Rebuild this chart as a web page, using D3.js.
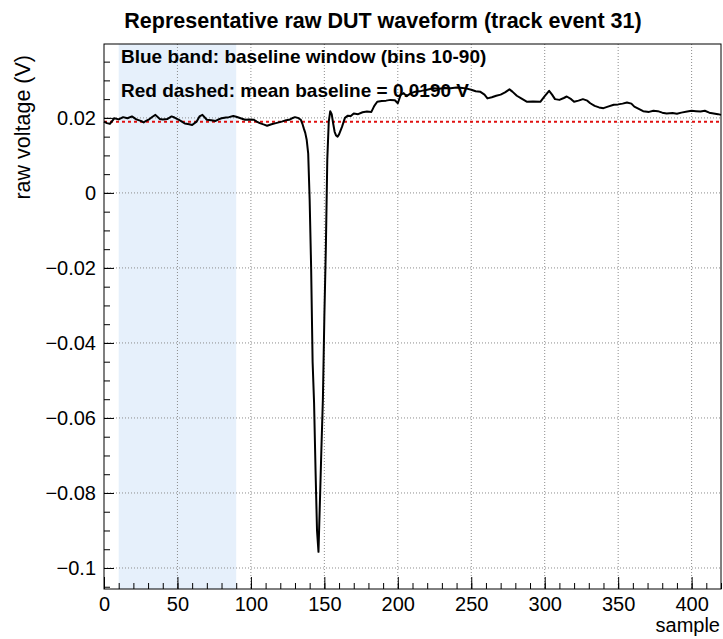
<!DOCTYPE html>
<html>
<head>
<meta charset="utf-8">
<script src="https://cdn.jsdelivr.net/npm/d3@7"></script>
<style>
body { margin:0; background:#fff; }
text { font-family: "Liberation Sans", Arial, Helvetica, sans-serif; }
</style>
</head>
<body>
<script>
// waveform (sample index, raw voltage in V)
var samples = [0, 2, 4, 7, 10, 13, 16, 19, 22, 25, 27, 29, 31, 33, 35, 38, 40, 43, 46, 48, 51, 53, 55, 58, 60, 63, 65, 67, 70, 73, 76, 78, 80, 83, 85, 88, 90, 93, 96, 99, 102, 104, 106, 109, 111, 114, 117, 119, 121, 124, 126, 128, 130, 132, 134,
  135, 136, 137, 138, 139, 140, 141, 142, 143, 144, 145, 146, 147, 148, 149, 150, 151, 152, 153, 154, 155, 156, 157, 158, 159, 160, 162, 164, 166, 168, 170, 173, 176, 179, 182, 184, 186, 189, 192, 195, 198, 200,
  202, 204, 206, 209, 212, 216, 220, 224, 228, 232, 236, 240, 244, 247, 250, 253, 256, 259, 261, 264, 267, 270, 273, 276, 278, 281, 284, 288, 292, 297, 300, 303, 305, 307, 310, 313, 315, 318, 320, 323, 326, 329, 331, 334, 337, 340, 343, 347, 350, 353, 356, 359, 361, 364, 367, 371, 374, 377, 380, 383, 387, 390, 393, 397, 400, 403, 406, 409, 412, 415, 418, 420];
var voltage = [0.0190, 0.0186, 0.0184, 0.0199, 0.0196, 0.0202, 0.0199, 0.0204, 0.0196, 0.0192, 0.0188, 0.0193, 0.0197, 0.0203, 0.0208, 0.0197, 0.0196, 0.0197, 0.0204, 0.0201, 0.0195, 0.0190, 0.0185, 0.0183, 0.0181, 0.0190, 0.0204, 0.0208, 0.0195, 0.0194, 0.0192, 0.0196, 0.0199, 0.0201, 0.0202, 0.0205, 0.0203, 0.0199, 0.0195, 0.0196, 0.0195, 0.0190, 0.0186, 0.0182, 0.0179, 0.0183, 0.0186, 0.0188, 0.0190, 0.0194, 0.0195, 0.0199, 0.0202, 0.0200, 0.0195,
  0.0185, 0.0172, 0.0160, 0.0141, 0.0105, -0.0020, -0.0200, -0.0450, -0.0560, -0.0740, -0.0900, -0.0957, -0.0820, -0.0680, -0.0550, -0.0330, -0.0150, 0.0090, 0.0190, 0.0218, 0.0210, 0.0185, 0.0163, 0.0153, 0.0150, 0.0156, 0.0176, 0.0200, 0.0206, 0.0205, 0.0212, 0.0210, 0.0215, 0.0217, 0.0216, 0.0232, 0.0243, 0.0245, 0.0246, 0.0248, 0.0247, 0.0239,
  0.0262, 0.0266, 0.0258, 0.0266, 0.0270, 0.0272, 0.0275, 0.0279, 0.0278, 0.0280, 0.0279, 0.0281, 0.0280, 0.0278, 0.0275, 0.0271, 0.0270, 0.0262, 0.0252, 0.0255, 0.0259, 0.0262, 0.0268, 0.0276, 0.0270, 0.0259, 0.0252, 0.0243, 0.0244, 0.0243, 0.0258, 0.0272, 0.0262, 0.0250, 0.0248, 0.0253, 0.0257, 0.0250, 0.0243, 0.0246, 0.0250, 0.0246, 0.0239, 0.0232, 0.0228, 0.0226, 0.0230, 0.0235, 0.0236, 0.0238, 0.0241, 0.0238, 0.0230, 0.0224, 0.0218, 0.0216, 0.0219, 0.0218, 0.0214, 0.0212, 0.0213, 0.0211, 0.0214, 0.0217, 0.0219, 0.0218, 0.0217, 0.0219, 0.0214, 0.0212, 0.0210, 0.0208];

var baselineMean = 0.0190;
var baselineWindow = [10, 90];
var xTicks = [0, 50, 100, 150, 200, 250, 300, 350, 400];
var yTicks = [-0.1, -0.08, -0.06, -0.04, -0.02, 0, 0.02];

var width = 723, height = 639;
var frame = {left:104, right:721, top:44, bottom:589};

var svg = d3.select("body").append("svg")
  .attr("width", width)
  .attr("height", height);

var x = d3.scaleLinear().domain([0, 420]).range([frame.left, frame.right]);
var y = d3.scaleLinear().domain([-0.1056, 0.0397]).range([frame.bottom, frame.top]);

// baseline window band
svg.append("rect")
  .attr("x", x(baselineWindow[0]))
  .attr("y", frame.top)
  .attr("width", x(baselineWindow[1]) - x(baselineWindow[0]))
  .attr("height", frame.bottom - frame.top)
  .attr("fill", "#e6f0fb");

// grid
svg.append("g").selectAll("line").data(xTicks.filter(function(d){return d>0;}))
  .enter().append("line")
  .attr("x1", function(d){return x(d);}).attr("x2", function(d){return x(d);})
  .attr("y1", frame.top).attr("y2", frame.bottom)
  .attr("stroke", "#8c8c8c").attr("stroke-width", 1).attr("stroke-dasharray", "1,2");
svg.append("g").selectAll("line").data(yTicks)
  .enter().append("line")
  .attr("x1", frame.left).attr("x2", frame.right)
  .attr("y1", function(d){return y(d);}).attr("y2", function(d){return y(d);})
  .attr("stroke", "#8c8c8c").attr("stroke-width", 1).attr("stroke-dasharray", "1,2");

// axes, ROOT style ticks pointing inwards
var xMinor = d3.range(0, 421, 10);
var yMinor = d3.range(-0.105, 0.0396, 0.005);

var xAxis = svg.append("g").attr("transform", "translate(0," + frame.bottom + ")");
xAxis.call(d3.axisBottom(x).tickValues(xMinor).tickSize(-6).tickFormat(""));
xAxis.select(".domain").remove();
var xAxisMaj = svg.append("g").attr("transform", "translate(0," + frame.bottom + ")");
xAxisMaj.call(d3.axisBottom(x).tickValues(xTicks).tickSize(-12).tickPadding(8).tickFormat(d3.format("d")));
xAxisMaj.select(".domain").remove();
xAxisMaj.selectAll("text").attr("font-size", 20).attr("font-family", "Liberation Sans, Arial, sans-serif").attr("fill", "#000");

var yAxis = svg.append("g").attr("transform", "translate(" + frame.left + ",0)");
yAxis.call(d3.axisLeft(y).tickValues(yMinor).tickSize(-6).tickFormat(""));
yAxis.select(".domain").remove();
var yAxisMaj = svg.append("g").attr("transform", "translate(" + frame.left + ",0)");
yAxisMaj.call(d3.axisLeft(y).tickValues(yTicks).tickSize(-10).tickPadding(8)
  .tickFormat(function(d){ return d === 0 ? "0" : d3.format("")(+d.toFixed(2)).replace("-", "\u2212"); }));
yAxisMaj.select(".domain").remove();
yAxisMaj.selectAll("text").attr("font-size", 20).attr("font-family", "Liberation Sans, Arial, sans-serif").attr("fill", "#000");

// mean baseline
svg.append("line")
  .attr("x1", frame.left).attr("x2", frame.right)
  .attr("y1", y(baselineMean)).attr("y2", y(baselineMean))
  .attr("stroke", "#e01010").attr("stroke-width", 2).attr("stroke-dasharray", "3,3");

// waveform
var pts = samples.map(function(s, i){ return [s, voltage[i]]; });
var line = d3.line().x(function(d){return x(d[0]);}).y(function(d){return y(d[1]);});
svg.append("path")
  .datum(pts)
  .attr("d", line)
  .attr("fill", "none")
  .attr("stroke", "#000")
  .attr("stroke-width", 2)
  .attr("stroke-linejoin", "round");

// frame
svg.append("rect")
  .attr("x", frame.left).attr("y", frame.top)
  .attr("width", frame.right - frame.left).attr("height", frame.bottom - frame.top)
  .attr("fill", "none").attr("stroke", "#000").attr("stroke-width", 1);

// texts
svg.append("text")
  .text("Representative raw DUT waveform (track event 31)")
  .attr("x", 383).attr("y", 28)
  .attr("text-anchor", "middle")
  .attr("font-weight", "bold").attr("font-size", 21.5);

svg.append("text")
  .text("Blue band: baseline window (bins 10-90)")
  .attr("x", 121).attr("y", 63)
  .attr("font-weight", "bold").attr("font-size", 19);
svg.append("text")
  .text("Red dashed: mean baseline = 0.0190 V")
  .attr("x", 121).attr("y", 97)
  .attr("font-weight", "bold").attr("font-size", 19);

svg.append("text")
  .text("sample")
  .attr("x", 720).attr("y", 632)
  .attr("text-anchor", "end")
  .attr("font-size", 20);

svg.append("text")
  .text("raw voltage (V)")
  .attr("transform", "translate(30,55) rotate(-90)")
  .attr("text-anchor", "end")
  .attr("font-size", 21.5);
</script>
</body>
</html>
